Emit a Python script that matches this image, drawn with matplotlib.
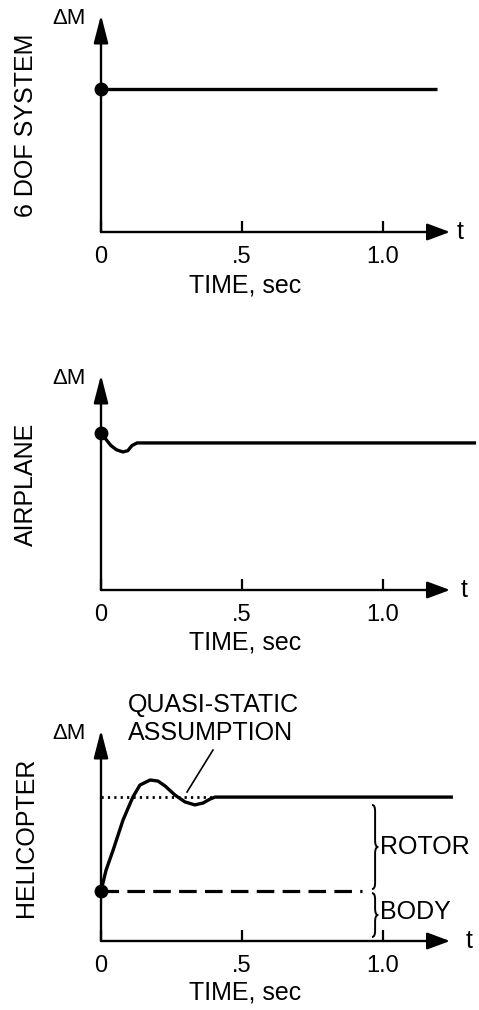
import matplotlib.pyplot as plt
from matplotlib.path import Path
from matplotlib.patches import PathPatch

plt.rcParams['font.family'] = ['Liberation Sans', 'DejaVu Sans']

# --- data (time in sec, moment in arbitrary units) ---
tick_vals = [0, 0.5, 1.0]
tick_labels = ['0', '.5', '1.0']

sixdof_t = [0.0, 1.19]
sixdof_m = [0.66, 0.66]

plane_t = [0.0, 0.015, 0.035, 0.055, 0.078, 0.095, 0.11, 0.128, 1.33]
plane_m = [0.73, 0.705, 0.672, 0.652, 0.642, 0.648, 0.672, 0.684, 0.684]

heli_t = [0.0, 0.018, 0.043, 0.078, 0.113, 0.138, 0.174, 0.202, 0.227,
          0.262, 0.298, 0.333, 0.362, 0.387, 0.404, 1.248]
heli_m = [0.237, 0.336, 0.431, 0.573, 0.682, 0.739, 0.763, 0.758, 0.735,
          0.692, 0.659, 0.645, 0.654, 0.673, 0.682, 0.682]

quasi_t = [0.0, 0.404]
quasi_m = [0.682, 0.682]
body_t = [0.0, 0.925]
body_m = [0.237, 0.237]

panels = [
    ('6 DOF SYSTEM', sixdof_t, sixdof_m, (232, 217), 1.02),
    ('AIRPLANE', plane_t, plane_m, (590, 215), 1.03),
    ('HELICOPTER', heli_t, heli_m, (941, 211), 1.045),
]

W, H = 479, 1010
X0, XW = 101, 349
T_MAX = XW / 282.0

fig = plt.figure(figsize=(W / 100, H / 100), dpi=100)


def brace(ax, x, y0, y1, w, h):
    ym = (y0 + y1) / 2
    xm = x + w / 2
    verts = [(x, y1), (xm, y1), (xm, y1 - h), (xm, ym + h),
             (xm, ym), (x + w, ym), (xm, ym), (xm, ym - h),
             (xm, y0 + h), (xm, y0), (x, y0)]
    codes = [Path.MOVETO, Path.CURVE3, Path.CURVE3, Path.LINETO,
             Path.CURVE3, Path.CURVE3, Path.CURVE3, Path.CURVE3,
             Path.LINETO, Path.CURVE3, Path.CURVE3]
    ax.add_patch(PathPatch(Path(verts, codes), fill=False, lw=1.4,
                           color='black', clip_on=False))


axes = []
for name, t, m, (ybot, hgt), t_x in panels:
    ax = fig.add_axes([X0 / W, 1 - ybot / H, XW / W, hgt / H])
    ax.set_xlim(0, T_MAX)
    ax.set_ylim(0, 1)
    for s in ax.spines.values():
        s.set_visible(False)
    ax.set_yticks([])
    ax.set_xticks(tick_vals)
    ax.set_xticklabels(tick_labels, fontsize=17)
    ax.tick_params(axis='x', direction='in', length=8, width=1.6, pad=10)
    # axes drawn as arrows
    ax.annotate('', xy=(0, 1.0), xytext=(0, 0), xycoords='axes fraction',
                arrowprops=dict(arrowstyle='-|>,head_length=0.85,head_width=0.22',
                                lw=1.7, color='black', mutation_scale=20,
                                shrinkA=0, shrinkB=0))
    ax.annotate('', xy=(1.0, 0), xytext=(0, 0), xycoords='axes fraction',
                arrowprops=dict(arrowstyle='-|>,head_length=0.7,head_width=0.26',
                                lw=1.7, color='black', mutation_scale=20,
                                shrinkA=0, shrinkB=0))
    ax.text(t_x, 0, 't', transform=ax.transAxes, fontsize=18,
            ha='left', va='center')
    ax.text(-0.045, 0.985, '\u0394M', transform=ax.transAxes, fontsize=16,
            ha='right', va='center')
    ax.text(-0.215, 0.49, name, transform=ax.transAxes, fontsize=18,
            rotation=90, ha='center', va='center')
    ax.text(0.51, -0.245, 'TIME, sec', transform=ax.get_xaxis_transform(),
            fontsize=18, ha='center', va='center')
    ax.plot(t, m, color='black', lw=2.4, clip_on=False, solid_capstyle='butt')
    axes.append(ax)

ax1, ax2, ax3 = axes
ax1.plot([0], [sixdof_m[0]], 'o', color='black', ms=9, clip_on=False)
ax2.plot([0], [plane_m[0]], 'o', color='black', ms=9, clip_on=False)

ax3.plot(quasi_t, quasi_m, color='black', lw=2.0, linestyle=(0, (0.8, 1.5)))
ax3.plot(body_t, body_m, color='black', lw=2.3, linestyle=(0, (5.5, 2.6)))
ax3.plot([0], [heli_m[0]], 'o', color='black', ms=9, clip_on=False)

brace(ax3, 0.961, 0.246, 0.645, 0.022, 0.03)
brace(ax3, 0.961, 0.019, 0.227, 0.022, 0.03)
ax3.text(0.99, 0.445, 'ROTOR', fontsize=18, ha='left', va='center')
ax3.text(0.99, 0.137, 'BODY', fontsize=18, ha='left', va='center')

ax3.text(0.096, 1.118, 'QUASI-STATIC', fontsize=18, ha='left', va='center')
ax3.text(0.096, 0.986, 'ASSUMPTION', fontsize=18, ha='left', va='center')
ax3.plot([0.397, 0.305], [0.905, 0.706], color='black', lw=1.2)

fig.savefig('out.png', dpi=100, facecolor='white')
